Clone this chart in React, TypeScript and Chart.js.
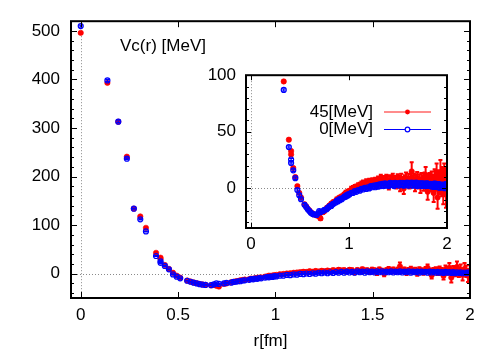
import React, { useEffect, useRef } from "react";
import { Chart, registerables } from "chart.js";

Chart.register(...registerables);

// ---------------- data ----------------
const rFm = [
  0, 0.137, 0.193, 0.237, 0.273, 0.306, 0.335, 0.387, 0.41, 0.41,
  0.432, 0.453, 0.474, 0.493, 0.511, 0.547, 0.564, 0.58, 0.596, 0.611,
  0.626, 0.641, 0.67, 0.684, 0.697, 0.71,
  0.736, 0.749, 0.773, 0.785, 0.797, 0.809, 0.82, 0.832, 0.843, 0.865,
  0.875, 0.886, 0.896, 0.907, 0.917, 0.927, 0.947, 0.957, 0.967, 0.976,
  0.986, 0.995, 1.005, 1.023, 1.041, 1.059, 1.076, 1.094, 1.111, 1.127,
  1.144, 1.16, 1.176, 1.192, 1.207, 1.223, 1.238, 1.253, 1.268, 1.282,
  1.297, 1.311, 1.325, 1.339, 1.353, 1.367, 1.381, 1.394, 1.407, 1.421,
  1.434, 1.447, 1.46, 1.472, 1.485, 1.497, 1.51, 1.522, 1.534, 1.547,
  1.559, 1.571, 1.582, 1.594, 1.606, 1.617, 1.629, 1.64, 1.652, 1.663,
  1.674, 1.685, 1.696, 1.707, 1.718, 1.729, 1.74, 1.751, 1.761, 1.772,
  1.782, 1.793, 1.803, 1.813, 1.824, 1.834, 1.844, 1.854, 1.864, 1.874,
  1.884, 1.894, 1.904, 1.914, 1.923, 1.933, 1.943, 1.952, 1.962, 1.972,
  1.981, 1.99, 1.999,
];

// 45 MeV (red, filled)
const vc45 = [
  496, 393, 313, 241, 134, 118, 94.5, 43, 33, 30,
  18, 10, 2, -4, -8, -14, -16, -18, -19.5, -21,
  -22, -23, -24, -23, -25, -26.5,
  -21, -20, -17.5, -17, -15.5, -15, -13.5, -13, -12, -11.5,
  -10, -10.5, -9, -8.5, -8, -7.5, -6, -5.5, -4, -4.5,
  -3.5, -3, -2.5, -1, -0.5, 0.5, 1, 2, 2.5, 3,
  4, 3.5, 5, 4, 5.5, 4.5, 6, 5, 6.5, 5,
  7, 6, 8, 6.5, 7.5, 5, 8, 7, 3, 7.5,
  6, 9, 6.5, 7, 4, 8, 7, 2, 8.5, 6,
  0, 7, 9, 6, 8, 5, 7.5, 15, 6, 8,
  3, 7, 9, 5, 7, 2, 8, 6, 4, 8,
  12, 5, -3, 6, 7, 4, 8, 5, -4, 9,
  6, 12, -8, 7, 4, 14, 3, 8, -2, 10,
  5, -4, 6,
];
const err45 = [
  2, 2, 2, 1.5, 1, 1, 1, 1, 1, 1,
  1, 1, 1, 1, 1, 1, 1, 1, 1, 1,
  1, 1, 1, 1, 1, 1.5,
  1.5, 1.5, 1.5, 1.5, 1.5, 1.5, 1.5, 1.5, 1.5, 1.5,
  2, 2, 2, 2, 2, 2, 2, 2, 2, 2,
  2, 2, 2, 2.5, 2.5, 2.5, 2.5, 2.5, 2.5, 3,
  3, 3, 3, 3, 3, 3, 3, 3, 3, 3.5,
  3.5, 3.5, 4, 3.5, 3.5, 4, 4, 3.5, 4, 4,
  3.5, 4, 4, 4, 4, 4.5, 4, 4.5, 4.5, 4,
  5, 4.5, 5, 4.5, 5, 5, 5, 8, 5, 5,
  5.5, 5, 5.5, 5, 5.5, 6, 5.5, 5.5, 6, 6,
  7, 6, 7, 6, 6.5, 6.5, 7, 7, 8, 8,
  8, 10, 10, 9, 9, 11, 10, 11, 12, 12,
  12, 13, 12,
];

// 0 MeV (blue, open)
const vc0 = [
  510, 398, 313, 237, 134, 112, 87, 36.5, 25.5, 22.5,
  16, 9, -1.5, -6, -9.5, -14.5, -16.5, -18.5, -20, -21.5,
  -22.5, -23, -23.5, -22, -20, -21,
  -20, -19, -18.5, -17, -16.5, -15.5, -15.5, -14, -13.5, -12.5,
  -11, -11.5, -10, -10.5, -9, -9.5, -8, -7, -7.5, -6,
  -6.5, -5, -5.5, -4, -4, -2.5, -3, -1.5, -2, -0.5,
  -1, 0.5, -0.5, 1, 0, 2, 1, 2.5, 1, 3,
  1.5, 3.5, 2, 4, 2, 4.5, 2.5, 4, 2, 5,
  3, 4.5, 2, 5, 3, 4.5, 2.5, 5, 3, 5,
  2.5, 4.5, 3, 5, 2.5, 4.5, 3, 5, 2.5, 4.5,
  3, 5, 2, 4.5, 3, 4.5, 2, 4.5, 3, 4,
  2, 4.5, 2.5, 4, 2, 4, 2, 3.5, 1.5, 4,
  2, 3.5, 1.5, 3.5, 1, 3, 1.5, 3, 1, 2.5,
  1, 3, 1.5,
];
const err0 = [
  2, 2, 2, 1.5, 1, 1, 1, 1, 1, 1,
  1, 1, 1, 1, 1, 1, 1, 1, 1, 1,
  1, 1, 1, 1, 1, 1,
  1, 1, 1, 1, 1, 1, 1, 1, 1, 1,
  1, 1, 1, 1, 1, 1, 1, 1, 1, 1,
  1, 1, 1, 1, 1, 1, 1, 1, 1, 1,
  1, 1, 1, 1, 1.5, 1.5, 1.5, 1.5, 1.5, 1.5,
  1.5, 1.5, 1.5, 1.5, 1.5, 1.5, 1.5, 1.5, 1.5, 1.5,
  1.5, 1.5, 1.5, 1.5, 1.5, 1.5, 1.5, 1.5, 1.5, 1.5,
  2, 2, 2, 2, 2, 2, 2, 2, 2, 2,
  2, 2, 2, 2, 2, 2, 2, 2, 2, 2,
  2, 2, 2, 2, 2, 2, 2.5, 2.5, 2.5, 2.5,
  2.5, 2.5, 2.5, 2.5, 2.5, 2.5, 2.5, 2.5, 2.5, 2.5,
  3, 3, 3,
];

const seriesLabels = ["45[MeV]", "0[MeV]"];
const mainTitle = "Vc(r) [MeV]";
const xTitle = "r[fm]";

const mainXTicks = [0, 0.5, 1, 1.5, 2];
const mainYTicks = [0, 100, 200, 300, 400, 500];
const insetXTicks = [0, 1, 2];
const insetYTicks = [0, 50, 100];

// ---------------- styling ----------------
const FONT = '"Liberation Sans", Arial, Helvetica, sans-serif';
const RED = "#ff0000";
const BLUE = "#0000ff";

Chart.defaults.font.family = FONT;
Chart.defaults.font.size = 17;
Chart.defaults.color = "#000";

type FrameCfg = {
  xMajor: number[];
  yMajor: number[];
  xMinorStep: number;
  yMinorStep: number;
  major: number;
  minor: number;
};

function makeFramePlugin(cfg: FrameCfg) {
  return {
    id: "gpFrame",
    beforeDatasetsDraw(chart: any) {
      const { ctx, chartArea: a, scales } = chart;
      const sx = scales.x;
      const sy = scales.y;
      const x0 = Math.round(sx.getPixelForValue(0)) + 0.5;
      const y0 = Math.round(sy.getPixelForValue(0)) + 0.5;
      ctx.save();
      ctx.strokeStyle = "#8a8a8a";
      ctx.lineWidth = 1;
      ctx.setLineDash([1, 2]);
      ctx.beginPath();
      ctx.moveTo(a.left, y0);
      ctx.lineTo(a.right, y0);
      ctx.moveTo(x0, a.top);
      ctx.lineTo(x0, a.bottom);
      ctx.stroke();
      ctx.restore();
    },
    afterDatasetsDraw(chart: any) {
      const { ctx, chartArea: a, scales } = chart;
      const sx = scales.x;
      const sy = scales.y;
      ctx.save();
      ctx.strokeStyle = "#000";
      ctx.lineWidth = 1;
      ctx.beginPath();
      const hTick = (v: number, len: number) => {
        const y = Math.round(sy.getPixelForValue(v)) + 0.5;
        ctx.moveTo(a.left, y);
        ctx.lineTo(a.left + len, y);
        ctx.moveTo(a.right, y);
        ctx.lineTo(a.right - len, y);
      };
      const vTick = (v: number, len: number) => {
        const x = Math.round(sx.getPixelForValue(v)) + 0.5;
        ctx.moveTo(x, a.bottom);
        ctx.lineTo(x, a.bottom - len);
        ctx.moveTo(x, a.top);
        ctx.lineTo(x, a.top + len);
      };
      cfg.yMajor.forEach((v) => hTick(v, cfg.major));
      if (cfg.yMinorStep > 0) {
        const start = Math.ceil(sy.min / cfg.yMinorStep) * cfg.yMinorStep;
        for (let v = start; v <= sy.max + 1e-9; v += cfg.yMinorStep) {
          if (!cfg.yMajor.some((m) => Math.abs(m - v) < 1e-9)) hTick(v, cfg.minor);
        }
      }
      cfg.xMajor.forEach((v) => vTick(v, cfg.major));
      if (cfg.xMinorStep > 0) {
        const start = Math.ceil(sx.min / cfg.xMinorStep) * cfg.xMinorStep;
        for (let v = start; v <= sx.max + 1e-9; v += cfg.xMinorStep) {
          if (!cfg.xMajor.some((m) => Math.abs(m - v) < 1e-9)) vTick(v, cfg.minor);
        }
      }
      ctx.stroke();
      ctx.lineWidth = 2;
      ctx.strokeRect(a.left, a.top, a.right - a.left, a.bottom - a.top);
      ctx.restore();
    },
  };
}

const errorBarPlugin = {
  id: "errBars",
  beforeDatasetDraw(chart: any, args: any) {
    const ds = chart.data.datasets[args.index];
    const errs: number[] | undefined = ds.errors;
    if (!errs) return;
    const { ctx, chartArea: a, scales } = chart;
    ctx.save();
    ctx.beginPath();
    ctx.rect(a.left, a.top, a.right - a.left, a.bottom - a.top);
    ctx.clip();
    ctx.strokeStyle = ds.errColor;
    ctx.lineWidth = ds.errWidth;
    ctx.beginPath();
    ds.data.forEach((p: any, i: number) => {
      const e = errs[i];
      const x = scales.x.getPixelForValue(p.x);
      const y1 = scales.y.getPixelForValue(p.y - e);
      const y2 = scales.y.getPixelForValue(p.y + e);
      ctx.moveTo(x, y1);
      ctx.lineTo(x, y2);
      ctx.moveTo(x - 2, y1);
      ctx.lineTo(x + 2, y1);
      ctx.moveTo(x - 2, y2);
      ctx.lineTo(x + 2, y2);
    });
    ctx.stroke();
    ctx.restore();
  },
};

const mainTitlePlugin = {
  id: "mainTitle",
  afterDraw(chart: any) {
    const { ctx } = chart;
    ctx.save();
    ctx.font = `17px ${FONT}`;
    ctx.fillStyle = "#000";
    ctx.textAlign = "left";
    ctx.textBaseline = "middle";
    ctx.fillText(mainTitle, 120, 46);
    ctx.restore();
  },
};

const insetLegendPlugin = {
  id: "insetLegend",
  afterDraw(chart: any) {
    const { ctx } = chart;
    const rows = [
      { y: 57, line: "#ff8c8c", lw: 2, color: RED, filled: true, label: chart.data.datasets[0].label },
      { y: 74.5, line: BLUE, lw: 1, color: BLUE, filled: false, label: chart.data.datasets[1].label },
    ];
    ctx.save();
    ctx.font = `17px ${FONT}`;
    ctx.textAlign = "right";
    ctx.textBaseline = "middle";
    rows.forEach((row) => {
      ctx.fillStyle = "#000";
      ctx.fillText(row.label, 183, row.y);
      ctx.strokeStyle = row.line;
      ctx.lineWidth = row.lw;
      ctx.beginPath();
      ctx.moveTo(194, row.y);
      ctx.lineTo(241, row.y);
      ctx.stroke();
      ctx.beginPath();
      ctx.arc(217.5, row.y, row.filled ? 2.4 : 2.3, 0, Math.PI * 2);
      if (row.filled) {
        ctx.fillStyle = row.color;
        ctx.fill();
      } else {
        ctx.fillStyle = "#fff";
        ctx.fill();
        ctx.strokeStyle = row.color;
        ctx.lineWidth = 1.2;
        ctx.stroke();
      }
    });
    ctx.restore();
  },
};

function buildDatasets() {
  const pts = (vals: number[]) => rFm.map((x, i) => ({ x, y: vals[i] }));
  return [
    {
      label: seriesLabels[0],
      data: pts(vc45),
      errors: err45,
      errColor: RED,
      errWidth: 2,
      order: 1,
      showLine: false,
      pointRadius: 2.7,
      pointBackgroundColor: RED,
      pointBorderColor: RED,
      pointBorderWidth: 0.6,
    },
    {
      label: seriesLabels[1],
      data: pts(vc0),
      errors: err0,
      errColor: BLUE,
      errWidth: 1.2,
      order: 0,
      showLine: false,
      pointRadius: 2.5,
      pointBackgroundColor: "rgba(0,0,0,0)",
      pointBorderColor: BLUE,
      pointBorderWidth: 1.2,
    },
  ];
}

const fmt = (v: any) => String(Math.round(Number(v) * 100) / 100);

export default function App() {
  const mainRef = useRef<HTMLCanvasElement>(null);
  const insetRef = useRef<HTMLCanvasElement>(null);

  useEffect(() => {
    const main = new Chart(mainRef.current as HTMLCanvasElement, {
      type: "scatter",
      data: { datasets: buildDatasets() as any },
      options: {
        responsive: false,
        animation: false,
        events: [],
        layout: { padding: { left: 0, right: 30, top: 21, bottom: 0 } },
        plugins: { legend: { display: false }, tooltip: { enabled: false } },
        scales: {
          x: {
            type: "linear",
            min: -0.05,
            max: 2,
            afterBuildTicks: (s: any) => {
              s.ticks = mainXTicks.map((value) => ({ value }));
            },
            afterFit: (s: any) => {
              s.height = 52;
            },
            grid: { display: false, drawTicks: false },
            border: { display: false },
            ticks: { padding: 7, callback: fmt, maxRotation: 0, autoSkip: false },
            title: { display: true, text: xTitle, padding: { top: 0, bottom: -2 } },
          },
          y: {
            type: "linear",
            min: -50,
            max: 520,
            afterBuildTicks: (s: any) => {
              s.ticks = mainYTicks.map((value) => ({ value }));
            },
            afterFit: (s: any) => {
              s.width = 71;
            },
            grid: { display: false, drawTicks: false },
            border: { display: false },
            ticks: { padding: 11, callback: fmt, autoSkip: false },
          },
        },
      } as any,
      plugins: [
        makeFramePlugin({ xMajor: mainXTicks, yMajor: mainYTicks, xMinorStep: 0, yMinorStep: 20, major: 6, minor: 3 }),
        errorBarPlugin,
        mainTitlePlugin,
      ],
    });

    const inset = new Chart(insetRef.current as HTMLCanvasElement, {
      type: "scatter",
      data: { datasets: buildDatasets() as any },
      options: {
        responsive: false,
        animation: false,
        events: [],
        layout: { padding: { left: 0, right: 13, top: 18, bottom: 0 } },
        plugins: { legend: { display: false }, tooltip: { enabled: false } },
        scales: {
          x: {
            type: "linear",
            min: -0.05,
            max: 2,
            afterBuildTicks: (s: any) => {
              s.ticks = insetXTicks.map((value) => ({ value }));
            },
            afterFit: (s: any) => {
              s.height = 37;
            },
            grid: { display: false, drawTicks: false },
            border: { display: false },
            ticks: { padding: 6, callback: fmt, maxRotation: 0, autoSkip: false },
          },
          y: {
            type: "linear",
            min: -35,
            max: 100,
            afterBuildTicks: (s: any) => {
              s.ticks = insetYTicks.map((value) => ({ value }));
            },
            afterFit: (s: any) => {
              s.width = 56;
            },
            grid: { display: false, drawTicks: false },
            border: { display: false },
            ticks: { padding: 10, callback: fmt, autoSkip: false },
          },
        },
      } as any,
      plugins: [
        makeFramePlugin({ xMajor: insetXTicks, yMajor: insetYTicks, xMinorStep: 0, yMinorStep: 10, major: 5, minor: 3 }),
        errorBarPlugin,
        insetLegendPlugin,
      ],
    });

    return () => {
      main.destroy();
      inset.destroy();
    };
  }, []);

  return (
    <div style={{ position: "fixed", left: 0, top: 0, width: 500, height: 350, background: "#fff" }}>
      <canvas ref={mainRef} width={500} height={350} style={{ position: "absolute", left: 0, top: 0 }} />
      <canvas ref={insetRef} width={270} height={210} style={{ position: "absolute", left: 190, top: 55 }} />
    </div>
  );
}
